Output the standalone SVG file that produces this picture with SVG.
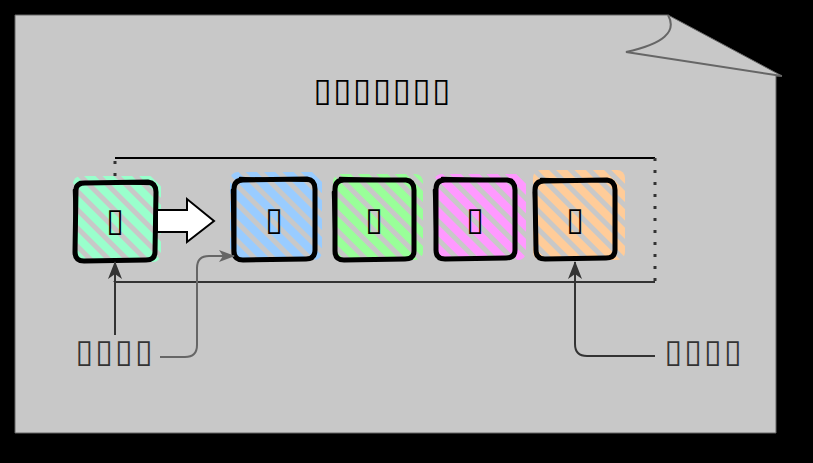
<svg xmlns="http://www.w3.org/2000/svg" width="813" height="463" viewBox="0 0 813 463">
<defs>
<style>
.lbl{font-family:"DejaVu Sans","Liberation Sans",sans-serif;font-size:32px;fill:#333;text-anchor:middle}
.ttl{font-family:"DejaVu Sans","Liberation Sans",sans-serif;font-size:33px;font-weight:bold;fill:#000;text-anchor:middle}
.btx{font-family:"DejaVu Sans","Liberation Sans",sans-serif;font-size:32px;fill:#000;text-anchor:middle}
.bx{fill:none;stroke:#000;stroke-width:5;stroke-linejoin:round;stroke-linecap:round}
.bx2{fill:none;stroke:#000;stroke-width:2.5;stroke-linecap:round}
.conn{fill:none;stroke-width:2}
</style>
<pattern id="pA" width="13" height="13" patternUnits="userSpaceOnUse" patternTransform="rotate(-45)"><rect width="13" height="13" fill="#c8c8c8"/><rect width="8" height="13" fill="#99ffcc"/></pattern>
<pattern id="pB" width="13" height="13" patternUnits="userSpaceOnUse" patternTransform="rotate(-45)"><rect width="13" height="13" fill="#c8c8c8"/><rect width="8" height="13" fill="#99ccff"/></pattern>
<pattern id="pC" width="13" height="13" patternUnits="userSpaceOnUse" patternTransform="rotate(-45)"><rect width="13" height="13" fill="#c8c8c8"/><rect width="8" height="13" fill="#99ff99"/></pattern>
<pattern id="pD" width="13" height="13" patternUnits="userSpaceOnUse" patternTransform="rotate(-45)"><rect width="13" height="13" fill="#c8c8c8"/><rect width="8" height="13" fill="#ff99ff"/></pattern>
<pattern id="pE" width="13" height="13" patternUnits="userSpaceOnUse" patternTransform="rotate(-45)"><rect width="13" height="13" fill="#c8c8c8"/><rect width="8" height="13" fill="#ffcc99"/></pattern>
<marker id="ahD" viewBox="0 0 18 14" refX="17" refY="7" markerWidth="18" markerHeight="14" markerUnits="userSpaceOnUse" orient="auto"><path d="M0,0 L18,7 L0,14 L5,7 Z" fill="#333"/></marker>
<marker id="ahG" viewBox="0 0 16 12" refX="15" refY="6" markerWidth="16" markerHeight="12" markerUnits="userSpaceOnUse" orient="auto"><path d="M0,0 L16,6 L0,12 L4,6 Z" fill="#666"/></marker>
</defs>
<rect width="813" height="463" fill="#000"/>
<g id="page">
<path d="M15,15 L668,15 L782,76 L776,76 L776,433 L15,433 Z" fill="#c8c8c8" stroke="#666" stroke-width="1"/>
<path d="M668,15 Q682,40 626,52 L782,76" fill="none" stroke="#666" stroke-width="2"/>
<text class="ttl" x="382" y="101" textLength="137" lengthAdjust="spacing">▯▯▯▯▯▯▯</text>
</g>
<g id="frame">
<line x1="115" y1="158" x2="655" y2="158" stroke="#000" stroke-width="2"/>
<line x1="655" y1="158" x2="655" y2="282" stroke="#333" stroke-width="3" stroke-dasharray="3,9"/>
<line x1="115" y1="161" x2="115" y2="282" stroke="#333" stroke-width="3" stroke-dasharray="3,9"/>
<line x1="115" y1="282" x2="655" y2="282" stroke="#333" stroke-width="2"/>
</g>
<g id="node1">
<rect x="73" y="176" width="88" height="86" rx="8" fill="url(#pA)"/>
<path class="bx" d="M76,190 Q76,183 85,183 L148,182 Q156,183 156,192 L155,252 Q155,260 146,260 L84,261 Q75,261 75,252 Z"/>
<path class="bx2" d="M74,190 L76,255 M80,182 L152,184"/>
<text class="btx" x="115" y="231">▯</text>
</g>
<g id="node2">
<rect x="230" y="172" width="92" height="88" rx="8" fill="url(#pB)"/>
<path class="bx" d="M234,189 Q234,180 243,180 L307,179 Q315,180 315,189 L315,250 Q315,259 306,259 L243,260 Q234,260 234,251 Z"/>
<path class="bx2" d="M232,190 L233,256 M240,178 L312,181"/>
<text class="btx" x="274" y="230">▯</text>
</g>
<g id="node3">
<rect x="333" y="174" width="90" height="86" rx="8" fill="url(#pC)"/>
<path class="bx" d="M335,189 Q335,180 344,180 L406,180 Q414,181 414,190 L414,251 Q414,259 405,259 L344,260 Q335,260 335,251 Z"/>
<path class="bx2" d="M333,192 L335,255 M340,178 L410,180"/>
<text class="btx" x="374" y="230">▯</text>
</g>
<g id="node4">
<rect x="434" y="174" width="92" height="86" rx="8" fill="url(#pD)"/>
<path class="bx" d="M436,189 Q436,180 445,180 L507,180 Q515,181 515,190 L515,250 Q515,258 506,258 L445,259 Q436,259 436,250 Z"/>
<path class="bx2" d="M434,190 L436,256 M442,178 L512,180"/>
<text class="btx" x="475" y="230">▯</text>
</g>
<g id="node5">
<rect x="533" y="170" width="92" height="90" rx="8" fill="url(#pE)"/>
<path class="bx" d="M535,190 Q535,181 544,181 L607,180 Q615,181 615,190 L615,250 Q615,258 606,258 L545,259 Q536,259 536,250 Z"/>
<path class="bx2" d="M534,192 L536,256 M541,179 L612,181"/>
<text class="btx" x="575" y="230">▯</text>
</g>
<g id="connectors">
<path d="M157,210 L187,210 L187,199 L214,221 L187,242 L187,232 L157,232 Z" fill="#fff" stroke="#000" stroke-width="2" stroke-linejoin="miter"/>
<path class="conn" stroke="#333" d="M115,335 L115,262" marker-end="url(#ahD)"/>
<path class="conn" stroke="#666" d="M160,357 L185,357 Q197,357 197,345 L197,268 Q197,256 209,256 L234,256" marker-end="url(#ahG)"/>
<path class="conn" stroke="#333" d="M655,356 L587,356 Q575,356 575,344 L575,262" marker-end="url(#ahD)"/>
</g>
<g id="labels">
<text class="lbl" x="114" y="362" textLength="77" lengthAdjust="spacing">▯▯▯▯</text>
<text class="lbl" x="703" y="362" textLength="77" lengthAdjust="spacing">▯▯▯▯</text>
</g>
</svg>
